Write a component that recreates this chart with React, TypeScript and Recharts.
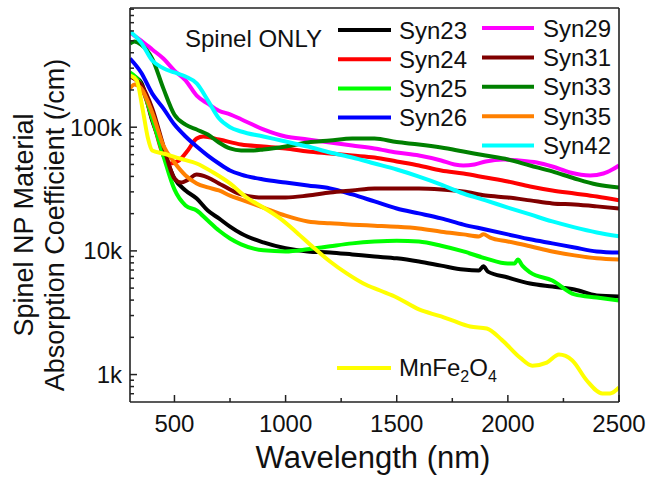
import React from "react";
import { LineChart, Line, XAxis, YAxis } from "recharts";

type P = { w: number; a: number };
const mk = (rows: number[][]): P[] => rows.map(([w, a]) => ({ w, a }));

const syn23 = mk([[300,267000],[350,230000],[400,113000],[450,64800],[500,38500],[550,30800],[600,26500],[650,21200],[700,18300],[750,15700],[800,13800],[900,11700],[1000,10500],[1100,9900],[1200,9700],[1300,9350],[1400,9000],[1500,8700],[1600,8200],[1700,7600],[1800,7070],[1870,6940],[1890,7500],[1910,6800],[2000,6090],[2100,5450],[2200,5150],[2300,4880],[2400,4360],[2500,4280]]);
const syn24 = mk([[300,262000],[350,213000],[400,118000],[450,59000],[480,50900],[520,53800],[560,64800],[600,81000],[630,84100],[700,79600],[800,72500],[900,69800],[1000,67300],[1100,63600],[1200,61300],[1300,59000],[1400,56900],[1500,52800],[1600,49000],[1700,44700],[1800,42200],[1900,39200],[2000,36400],[2100,33200],[2200,30800],[2300,29100],[2400,27500],[2500,25600]]);
const syn25 = mk([[300,277000],[350,221000],[400,118000],[450,59000],[500,31400],[550,23300],[600,21200],[650,17600],[700,14600],[750,12600],[800,11300],[900,10100],[1000,9900],[1100,10300],[1200,10900],[1300,11500],[1400,11900],[1500,12100],[1600,11900],[1700,11000],[1800,9900],[1900,8700],[2000,7900],[2030,7900],[2045,8500],[2065,7600],[2100,6700],[2200,5760],[2300,4450],[2400,4200],[2500,3970]]);
const syn26 = mk([[300,359000],[350,277000],[400,187000],[450,142000],[500,105000],[550,84100],[600,69800],[650,59000],[700,50900],[750,44700],[800,41400],[900,37800],[1000,35700],[1100,33800],[1200,32000],[1300,28600],[1400,25100],[1500,22000],[1600,20100],[1700,18300],[1800,16300],[1900,14900],[2000,13600],[2100,12400],[2200,11500],[2300,10650],[2400,9900],[2500,9700]]);
const syn29 = mk([[300,583000],[350,502000],[400,425000],[450,359000],[500,287000],[550,239000],[600,180000],[650,155000],[700,136000],[750,127000],[800,116000],[900,96000],[1000,84100],[1100,79600],[1200,75200],[1300,71100],[1400,67300],[1500,62400],[1600,59000],[1700,53800],[1760,50000],[1800,49000],[1850,50000],[1900,52800],[1980,54800],[2050,53800],[2130,51800],[2200,48100],[2280,43000],[2370,40700],[2430,42200],[2470,45500],[2500,49000]]);
const syn31 = mk([[300,257000],[350,221000],[400,142000],[450,71100],[500,38500],[530,35700],[560,37500],[600,41400],[650,39200],[700,35100],[750,31400],[800,28600],[900,27000],[1000,27000],[1100,28000],[1200,29600],[1300,30800],[1400,32000],[1500,32000],[1600,32000],[1700,31400],[1800,30200],[1900,28000],[2000,27000],[2100,25600],[2200,24200],[2300,23700],[2400,22900],[2500,22000]]);
const syn33 = mk([[300,475000],[320,493000],[350,466000],[400,359000],[450,206000],[500,126000],[550,105000],[600,95800],[650,87300],[700,75200],[750,67300],[800,64800],[850,64800],[900,66000],[1000,69800],[1100,75200],[1200,78100],[1300,81000],[1400,81000],[1500,75800],[1600,72500],[1700,68500],[1800,63600],[1900,59000],[2000,54800],[2100,49000],[2200,43900],[2300,38500],[2400,34400],[2500,32600]]);
const syn35 = mk([[300,206000],[320,221000],[350,206000],[400,131000],[450,71100],[500,51800],[550,40700],[600,35100],[650,32600],[700,30800],[750,28000],[800,26000],[900,22400],[1000,19300],[1100,17300],[1200,16700],[1300,16300],[1400,16000],[1500,15700],[1600,15200],[1700,14300],[1800,13600],[1870,13100],[1890,13600],[1920,12800],[2000,11900],[2100,10900],[2200,9900],[2300,9200],[2400,8700],[2500,8500]]);
const syn42 = mk([[300,594000],[350,484000],[400,346000],[450,300000],[500,277000],[550,257000],[600,226000],[650,165000],[700,118000],[750,100000],[800,92300],[900,84100],[1000,76600],[1100,69800],[1200,62400],[1300,56900],[1400,50900],[1500,45500],[1600,39900],[1700,34400],[1800,29100],[1900,25600],[2000,22400],[2100,19700],[2200,17300],[2300,15500],[2400,14100],[2500,13100]]);
const mnfe2o4 = mk([[300,262000],[330,239000],[358,136000],[380,82600],[400,64800],[450,61300],[525,55800],[600,50900],[675,43000],[750,35100],[825,27000],[900,22400],[975,18300],[1050,14100],[1125,10650],[1200,8200],[1275,6570],[1350,5450],[1425,4780],[1500,4200],[1600,3360],[1700,2950],[1750,2740],[1830,2450],[1905,2360],[1975,1890],[2055,1370],[2110,1180],[2175,1250],[2230,1450],[2290,1300],[2355,896],[2425,703],[2460,703],[2500,786]]);

const xTicks = [500, 750, 1000, 1250, 1500, 1750, 2000, 2250, 2500];
const xMajor = [500, 1000, 1500, 2000, 2500];
const yTicks = [700, 800, 900, 1000, 2000, 3000, 4000, 5000, 6000, 7000, 8000, 9000, 10000, 20000, 30000, 40000, 50000, 60000, 70000, 80000, 90000, 100000, 200000, 300000, 400000, 500000, 600000, 700000, 800000, 900000];
const yMajor = [1000, 10000, 100000];
const yLabels: Record<number, string> = { 1000: "1k", 10000: "10k", 100000: "100k" };

const col1 = [
  { name: "Syn23", color: "#000000" },
  { name: "Syn24", color: "#ff0000" },
  { name: "Syn25", color: "#00ff00" },
  { name: "Syn26", color: "#0000ff" },
];
const col2 = [
  { name: "Syn29", color: "#ff00ff" },
  { name: "Syn31", color: "#800000" },
  { name: "Syn33", color: "#008000" },
  { name: "Syn35", color: "#ff8000" },
  { name: "Syn42", color: "#00ffff" },
];
const series = [
  { name: "Syn23", color: "#000000", data: syn23 },
  { name: "Syn24", color: "#ff0000", data: syn24 },
  { name: "Syn25", color: "#00ff00", data: syn25 },
  { name: "Syn26", color: "#0000ff", data: syn26 },
  { name: "Syn29", color: "#ff00ff", data: syn29 },
  { name: "Syn31", color: "#800000", data: syn31 },
  { name: "Syn33", color: "#008000", data: syn33 },
  { name: "Syn35", color: "#ff8000", data: syn35 },
  { name: "Syn42", color: "#00ffff", data: syn42 },
  { name: "MnFe2O4", color: "#ffff00", data: mnfe2o4 },
];

const FONT = "'Liberation Sans', Arial, Helvetica, sans-serif";
const AX = "#222";
const L = 130, T = 8, R = 619, B = 402;

const XTick = (props: any) => {
  const { x, y, payload } = props;
  const v = payload.value;
  const major = xMajor.includes(v);
  return (
    <g>
      <line x1={x} x2={x} y1={y} y2={y - (major ? 7 : 4)} stroke={AX} strokeWidth={1.5} />
      {major && (
        <text x={x} y={y + 30} textAnchor="middle" fontSize={24} fontFamily={FONT} fill="#111">
          {v}
        </text>
      )}
    </g>
  );
};

const YTick = (props: any) => {
  const { x, y, payload } = props;
  const v = payload.value;
  const major = yMajor.includes(v);
  return (
    <g>
      <line x1={x} x2={x + (major ? 7 : 4)} y1={y} y2={y} stroke={AX} strokeWidth={1.5} />
      {major && (
        <text x={x - 8} y={y + 8.5} textAnchor="end" fontSize={24} fontFamily={FONT} fill="#111">
          {yLabels[v]}
        </text>
      )}
    </g>
  );
};

export default function App() {
  return (
    <div style={{ position: "absolute", left: 0, top: 0, width: 650, height: 477, background: "#fff" }}>
      <LineChart width={650} height={477} margin={{ top: T, right: 650 - R, bottom: 0, left: 0 }}>
        <XAxis
          dataKey="w"
          type="number"
          domain={[300, 2500]}
          ticks={xTicks}
          interval={0}
          allowDataOverflow
          height={477 - B}
          tickSize={0}
          tickMargin={0}
          tickLine={false}
          axisLine={{ stroke: AX, strokeWidth: 1.6 }}
          tick={<XTick />}
        />
        <YAxis
          type="number"
          scale="log"
          domain={[600, 920000]}
          ticks={yTicks}
          interval={0}
          allowDataOverflow
          width={L}
          tickSize={0}
          tickMargin={0}
          tickLine={false}
          axisLine={{ stroke: AX, strokeWidth: 1.6 }}
          tick={<YTick />}
        />
        {series.map((s) => (
          <Line
            key={s.name}
            data={s.data}
            dataKey="a"
            type="monotone"
            stroke={s.color}
            strokeWidth={4}
            dot={false}
            isAnimationActive={false}
          />
        ))}
      </LineChart>
      <svg
        width={650}
        height={477}
        style={{ position: "absolute", left: 0, top: 0, pointerEvents: "none" }}
        fontFamily={FONT}
      >
        <line x1={L} y1={T} x2={R} y2={T} stroke={AX} strokeWidth={1.6} />
        <line x1={R} y1={T} x2={R} y2={B} stroke={AX} strokeWidth={1.6} />
        <text x={185} y={47} fontSize={24} fill="#111">Spinel ONLY</text>
        {col1.map((c, i) => (
          <g key={c.name}>
            <line x1={338} x2={391} y1={30 + i * 29.2} y2={30 + i * 29.2} stroke={c.color} strokeWidth={4} />
            <text x={399} y={38.5 + i * 29.2} fontSize={24} fill="#111">{c.name}</text>
          </g>
        ))}
        {col2.map((c, i) => (
          <g key={c.name}>
            <line x1={482} x2={534} y1={28 + i * 29.4} y2={28 + i * 29.4} stroke={c.color} strokeWidth={4} />
            <text x={543} y={36.5 + i * 29.4} fontSize={24} fill="#111">{c.name}</text>
          </g>
        ))}
        <line x1={337} x2={391} y1={368} y2={368} stroke="#ffff00" strokeWidth={4} />
        <text x={399} y={376} fontSize={24} fill="#111">
          MnFe<tspan fontSize={16} dy={6}>2</tspan><tspan dy={-6}>O</tspan><tspan fontSize={16} dy={6}>4</tspan>
        </text>
        <text x={373} y={468} fontSize={31} textAnchor="middle" fill="#111">Wavelength (nm)</text>
        <text transform="translate(33,225) rotate(-90)" fontSize={27} textAnchor="middle" fill="#111">Spinel NP Material</text>
        <text transform="translate(64,225) rotate(-90)" fontSize={27} textAnchor="middle" fill="#111">Absorption Coefficient (/cm)</text>
      </svg>
    </div>
  );
}
